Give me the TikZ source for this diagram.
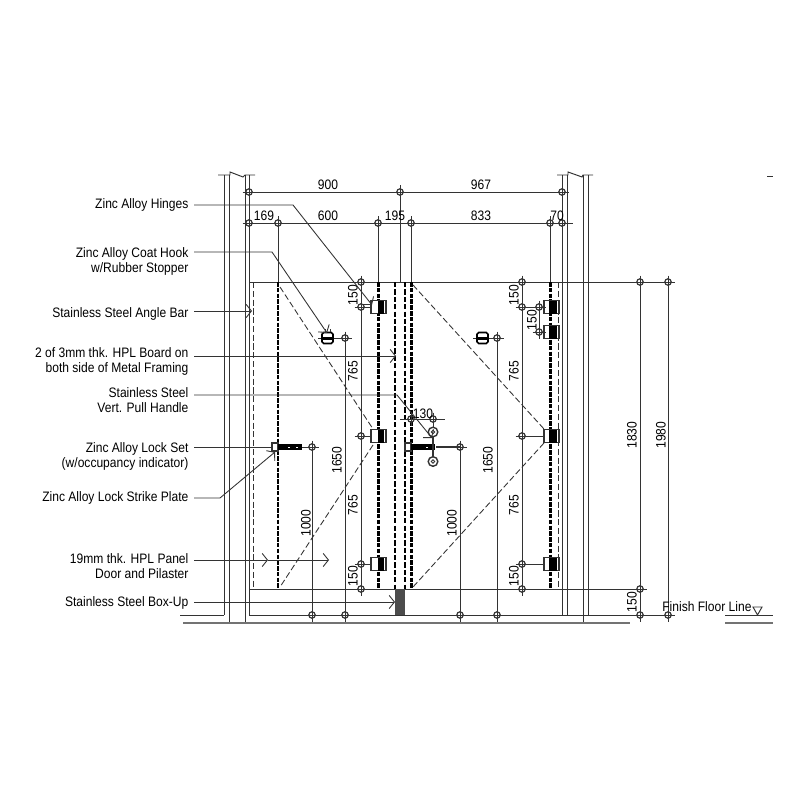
\documentclass[tikz,border=0pt]{standalone}
\usepackage{fontspec}
\setmainfont[FakeStretch=0.88]{Liberation Sans}
\usetikzlibrary{arrows.meta}

\definecolor{inkline}{gray}{0.2}
\tikzset{
    wall/.style={inkline, line width=0.55pt},
    thinline/.style={inkline, line width=0.55pt},
    groundline/.style={black!55, line width=1.2pt},
    frameline/.style={black, line width=1.7pt, dash pattern=on 2.6pt off 0.7pt},
    panelline/.style={black, line width=1pt, dash pattern=on 3pt off 1.2pt},
    edgeline/.style={inkline, line width=0.5pt, dash pattern=on 3.5pt off 1.5pt},
    swingline/.style={inkline, line width=0.5pt, dash pattern=on 3.5pt off 1.6pt},
    leader/.style={inkline, line width=0.5pt},
    leadarrow/.style={leader, -{Straight Barb[length=3pt, width=7.5pt, line width=0.5pt]}},
    calltext/.style={anchor=east, align=right, inner xsep=3pt, inner ysep=0pt, font=\fontsize{7.8}{8.5}\selectfont},
    dimtext/.style={inner sep=0pt, font=\fontsize{7.8}{8.5}\selectfont},
    hingebox/.style={draw=inkline, fill=white, line width=0.6pt},
    dmark/.pic={
        \draw[inkline, line width=0.7pt] (0,0) circle [radius=3.2];
        \draw[inkline, line width=0.5pt] (-6.5,0) -- (6.5,0) (0,-6.5) -- (0,6.5);
    }
}

\begin{document}
\begin{tikzpicture}[x=0.02cm, y=-0.02cm]
    \useasboundingbox (0,0) rectangle (800,800);

    % Walls and breaks
    \foreach \xw/\yend in {224/615, 229/623, 245/623, 249/615, 562/615, 567/615, 583/623, 588/615} {
        \draw[wall] (\xw,175) -- (\xw,\yend);
    }
    \draw[wall] (218,175) -- (230,175) -- (230,172) -- (243,177) -- (245,175) -- (255,175);
    \draw[wall] (557,175) -- (568,175) -- (568,172) -- (582,177) -- (583,175) -- (593,175);
    \draw[thinline, line width=0.4pt] (767,176) -- (773,176);

    % Floor
    \draw[thinline] (249,589) -- (640,589);
    \draw[thinline] (180,615) -- (224,615);
    \draw[thinline] (249,615) -- (668,615);
    \draw[thinline] (725,615) -- (773,615);
    \draw[groundline] (183,623) -- (630,623);
    \draw[groundline] (725,623) -- (773,623);
    \fill[black!70] (395,589) rectangle (405,615);

    % Door heads
    \draw[thinline] (249,282) -- (668,282);

    % Panels and pilaster
    \foreach \xp in {278, 378, 411, 550} {
        \draw[frameline] (\xp,282) -- (\xp,589);
    }
    \foreach \xp in {395, 405} {
        \draw[panelline] (\xp,282) -- (\xp,589);
    }
    \foreach \xp in {253, 558} {
        \draw[edgeline] (\xp,282) -- (\xp,589);
    }
    \draw[swingline] (280,287) -- (373,429);
    \draw[swingline] (373,445) -- (280,587);
    \draw[swingline] (413,285) -- (544,429);
    \draw[swingline] (544,443) -- (413,587);

    % Extension lines
    \foreach \xd/\ys in {278/223, 378/223, 400/192, 411/223, 550/223} {
        \draw[thinline] (\xd,\ys) -- (\xd,282);
    }
    \draw[thinline] (249,192) -- (562,192);
    \draw[thinline] (249,223) -- (573,223);
    \foreach \xd/\ys/\ye in {361/282/589, 522/282/589, 640/282/615, 668/282/615, 345/338/615, 497/338/615, 312/447/615, 460/447/615} {
        \draw[thinline] (\xd,\ys) -- (\xd,\ye);
    }
    \draw[thinline] (539,307) -- (539,332);

    % Hinges
    \foreach \xm/\xb/\yh in {361/371/307, 361/371/436, 361/371/564, 522/544/307, 539/544/332, 522/544/436, 522/544/564} {
        \draw[thinline] (\xm,\yh) -- (\xb,\yh);
    }
    \foreach \xb/\yh/\xk/\wk in {371/307/378/6, 371/436/378/6, 371/564/378/6, 544/307/549/8, 544/332/549/8, 544/436/549/8, 544/564/549/8} {
        \draw[hingebox] (\xb,\yh-6.5) rectangle ++(15,13);
        \fill[black] (\xk,\yh-6.5) rectangle ++(\wk,13);
    }

    % Coat hooks
    \foreach \xh/\xm in {322/345, 477/497} {
        \draw[thinline] (\xh-4,338) -- (\xh,338);
        \draw[thinline] (\xh+11,338) -- (\xm,338);
        \draw[black, fill=white, line width=0.9pt, rounded corners=1pt] (\xh,332.5) rectangle ++(11,11);
        \fill[black] (\xh,336.5) rectangle ++(11,3.5);
    }
    \foreach \xt in {325, 330} {
        \draw[thinline] (\xt,329) -- (\xt,332);
    }

    % Lock sets
    \draw[thinline] (302,447) -- (312,447);
    \draw[thinline, line width=0.8pt] (436,447) -- (460,447);
    \draw[hingebox] (272,443) rectangle ++(6,8);
    \draw[hingebox] (405,443) rectangle ++(6,8);
    \fill[black] (278,444) rectangle (302,450);
    \fill[black] (411,444) rectangle (435,450);
    \foreach \xd in {288, 296} {
        \fill[white] (\xd,446.5) rectangle ++(2,1.5);
    }
    \fill[white] (426,446.5) rectangle ++(2,1.5);

    % Pull handle
    \draw[thinline, line width=0.9pt] (433,436) -- (433,457);
    \draw[thinline] (433,419) -- (433,428);
    \foreach \yc in {432, 461.5} {
        \draw[thinline, line width=0.8pt] (433,\yc) circle [radius=4.8];
        \draw[thinline] (433,\yc) circle [radius=1.8];
    }
    \draw[thinline] (400,419) -- (445,419);

    % Dimension marks
    \foreach \xm/\ym in {249/192, 400/192, 562/192, 249/223, 278/223, 378/223, 411/223, 550/223, 562/223,
        361/282, 361/307, 361/436, 361/564, 361/589,
        522/282, 522/307, 522/436, 522/564, 522/589,
        539/307, 539/332, 345/338, 497/338, 312/447, 460/447,
        312/615, 345/615, 460/615, 497/615, 411/419, 433/419,
        640/282, 668/282, 640/589, 640/615, 668/615} {
        \pic at (\xm,\ym) {dmark};
    }

    % Dimensions
    \node[dimtext] (dimA) at (328,185) {900};
    \node[dimtext] (dimB) at (481,185) {967};
    \node[dimtext] (dimC) at (264,216) {169};
    \node[dimtext] (dimD) at (328,216) {600};
    \node[dimtext] (dimE) at (395,216) {195};
    \node[dimtext] (dimF) at (481,216) {833};
    \node[dimtext] (dimG) at (557,216) {70};
    \node[dimtext] (dimH) at (423,414) {130};
    \foreach \xt/\yt/\ttext in {353/295/150, 353/371/765, 353/505/765, 353/576/150,
        337/460/1650, 306/523/1000, 452/523/1000, 488/460/1650,
        514/295/150, 514/371/765, 514/505/765, 514/576/150, 532/320/150,
        632/435/1830, 661/435/1980, 632/602/150} {
        \node[dimtext, rotate=90] at (\xt,\yt) {\ttext};
    }

    % Callouts
    \node[calltext] (lbHinge) at (194,205) {Zinc Alloy Hinges};
    \node[calltext] (lbHook) at (194,261.5) {Zinc Alloy Coat Hook\\w/Rubber Stopper};
    \node[calltext] (lbAngle) at (194,314) {Stainless Steel Angle Bar};
    \node[calltext] (lbBoard) at (194,361.5) {2 of 3mm thk. HPL Board on\\both side of Metal Framing};
    \node[calltext] (lbPull) at (194,400.5) {Stainless Steel\\Vert. Pull Handle};
    \node[calltext] (lbLock) at (194,456.5) {Zinc Alloy Lock Set\\(w/occupancy indicator)};
    \node[calltext] (lbStrike) at (194,498) {Zinc Alloy Lock Strike Plate};
    \node[calltext] (lbPanel) at (194,566.5) {19mm thk. HPL Panel\\Door and Pilaster};
    \node[calltext] (lbBox) at (194,603) {Stainless Steel Box-Up};
    \node[dimtext, anchor=west] (lbFloor) at (662,607) {Finish Floor Line};

    \draw[thinline] (753,607) -- (762,607) -- (757.5,615) -- cycle;

    % Leaders
    \draw[leadarrow] (lbHinge.east |- 0,205) -- (293,205) -- (372,305);
    \draw[leadarrow] (lbHook.east |- 0,252) -- (272,252) -- (327,333);
    \draw[leadarrow] (lbAngle.east |- 0,311) -- (252,311);
    \draw[leadarrow] (lbBoard.east |- 0,356) -- (396,356);
    \draw[leadarrow] (lbPull.east |- 0,395) -- (397,395) -- (432,438);
    \draw[leader] (lbLock.east |- 0,447) -- (272,447);
    \draw[leadarrow] (lbStrike.east |- 0,498) -- (220,498) -- (275,452);
    \draw[leadarrow] (lbPanel.east |- 0,560) -- (268,560);
    \draw[leadarrow] (268,560) -- (329,560);
    \draw[leadarrow] (lbBox.east |- 0,602) -- (395,602);
\end{tikzpicture}
\end{document}
